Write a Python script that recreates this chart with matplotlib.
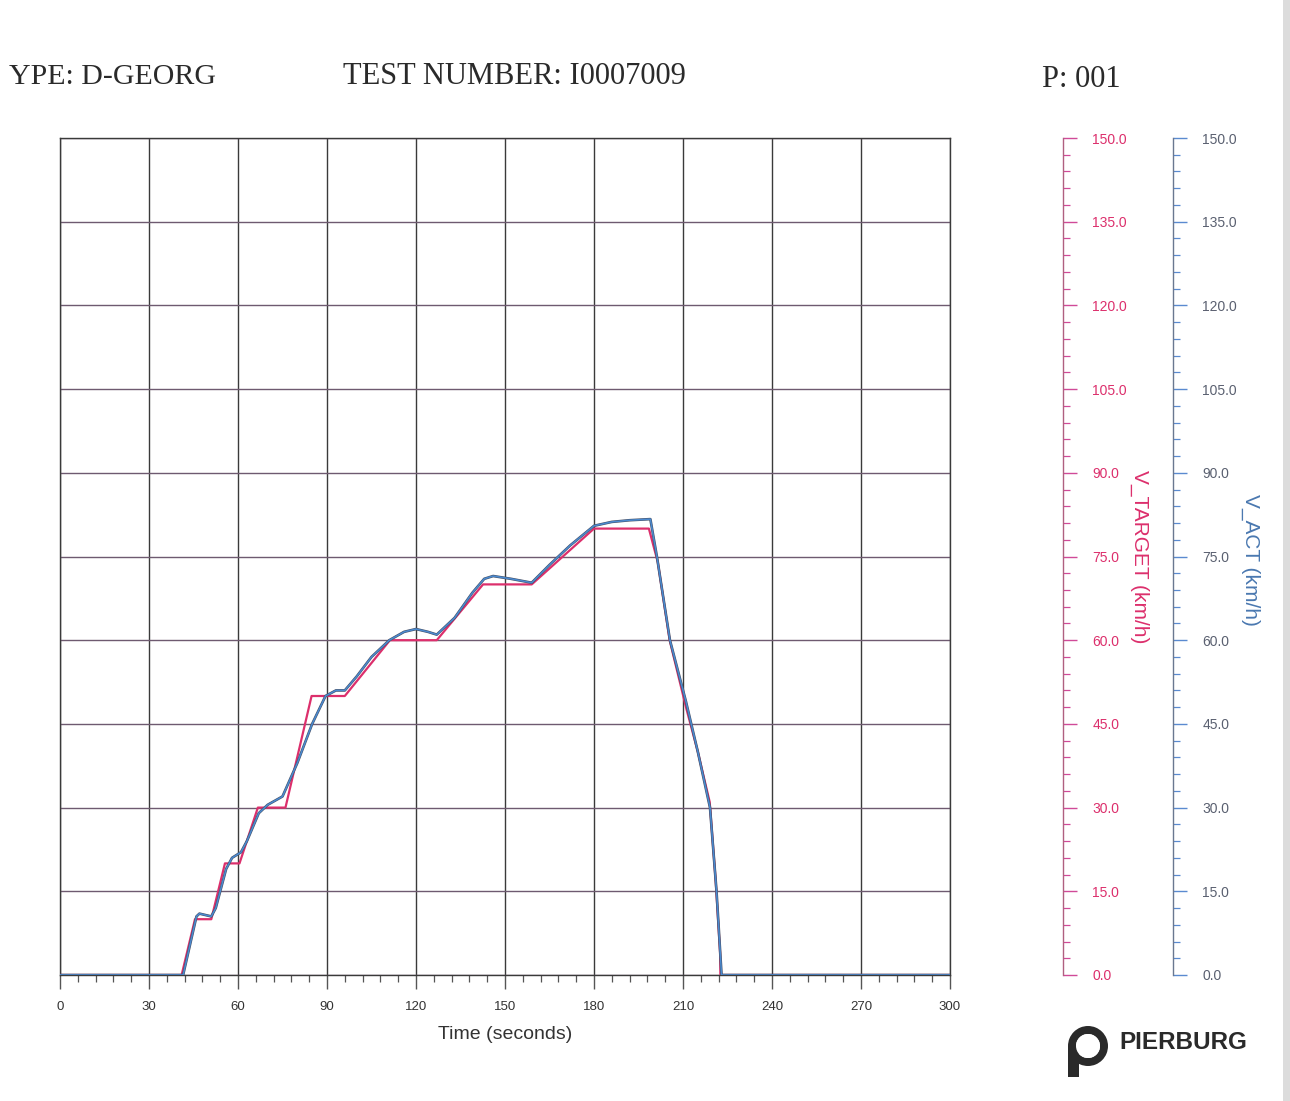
"""Recreate the scanned PIERBURG speed trace: target vs actual vehicle speed."""
from __future__ import annotations

import matplotlib

matplotlib.use("Agg")
import matplotlib.pyplot as plt
from matplotlib.patches import Circle, Rectangle, Wedge

W, H = 1290, 1101

# --- data --------------------------------------------------------------------
TARGET_T = [0, 41, 45.5, 51, 55.6, 60.5, 66.7, 76, 84.8, 96, 111.2, 127,
            142.6, 159, 180, 198.5, 201.5, 205.5, 211, 215, 219, 221, 222.5,
            222.6, 300]
TARGET_V = [0, 0, 10, 10, 20, 20, 30, 30, 50, 50, 60, 60,
            70, 70, 80, 80, 74, 60, 48, 40, 31, 17, 4,
            0, 0]

ACT_T = [0, 41.5, 46, 47, 51, 52.5, 56, 58, 61, 63, 67, 70, 75, 80, 85, 89.5,
         93, 96, 100, 105, 111, 116, 120, 124, 127, 133, 139, 143, 146, 152,
         159, 165, 172, 180, 186, 192, 199, 201.2, 205.6, 211, 215, 219.1,
         221.3, 223, 300]
ACT_V = [0, 0, 10.5, 11, 10.5, 12, 19, 21, 22, 24, 29, 30.5, 32, 38, 45, 50,
         51, 51, 53.5, 57, 60, 61.5, 62, 61.5, 61, 64, 68.5, 71, 71.5, 71,
         70.3, 73.5, 77, 80.5, 81.2, 81.5, 81.7, 75, 60, 49, 40, 30,
         15, 0, 0]

X_TICKS = list(range(0, 301, 30))
X_MINOR = list(range(0, 301, 6))
Y_TICKS = list(range(0, 151, 15))
Y_MINOR = list(range(0, 151, 3))
Y_LABELS = [f"{v:.1f}" for v in Y_TICKS]

PINK = "#dc2f6c"
BLUE = "#4a8ad0"


def px(x: float, y: float) -> tuple[float, float]:
    """Pixel position (top-left origin) to figure fraction."""
    return x / W, 1 - y / H


def add_side_axis(fig, x_px, top, bottom, spine_c, tick_c, label_c):
    left, b = px(x_px, bottom)
    _, t = px(x_px, top)
    ax = fig.add_axes([left, b, 1e-5, t - b])
    ax.set_ylim(0, 150)
    for side in ("left", "top", "bottom"):
        ax.spines[side].set_visible(False)
    ax.spines["right"].set_color(spine_c)
    ax.spines["right"].set_linewidth(1.0)
    ax.set_xticks([])
    ax.yaxis.tick_right()
    ax.set_yticks(Y_TICKS)
    ax.set_yticklabels(Y_LABELS)
    ax.set_yticks(Y_MINOR, minor=True)
    ax.tick_params(axis="y", which="major", direction="out", length=10,
                   width=1.0, color=tick_c, pad=11, labelsize=10,
                   labelcolor=label_c)
    ax.tick_params(axis="y", which="minor", direction="out", length=5,
                   width=0.9, color=tick_c)
    ax.patch.set_visible(False)
    return ax


def plot(out_path: str) -> None:
    plt.rcParams["font.family"] = ["Liberation Sans", "DejaVu Sans"]
    fig = plt.figure(figsize=(W / 100, H / 100), dpi=100)

    top, bottom = 138, 975
    l, b = px(60, bottom)
    r, t = px(950, top)
    ax = fig.add_axes([l, b, r - l, t - b])
    ax.set_xlim(0, 300)
    ax.set_ylim(0, 150)

    # grid
    for x in X_TICKS:
        ax.axvline(x, color="#3a3a3a", lw=1.0, zorder=1)
    for y in Y_TICKS:
        ax.axhline(y, color="#6e5a70", lw=1.0, zorder=1)

    ax.plot(TARGET_T, TARGET_V, color=PINK, lw=1.6, zorder=3)
    ax.plot(ACT_T, ACT_V, color="#465066", lw=1.9, zorder=4)
    ax.plot(ACT_T, ACT_V, color=BLUE, lw=1.1, zorder=5)

    for side in ax.spines.values():
        side.set_color("#3a3a3a")
        side.set_linewidth(1.0)
    ax.set_xticks(X_TICKS)
    ax.set_xticks(X_MINOR, minor=True)
    ax.tick_params(axis="x", which="major", direction="out", length=10,
                   width=1.0, color="#555555", labelsize=9.5,
                   labelcolor="#333333", pad=9)
    ax.tick_params(axis="x", which="minor", direction="out", length=5,
                   width=0.9, color="#555555")
    ax.set_yticks([])
    ax.set_xlabel("Time (seconds)", fontsize=14, color="#333333", labelpad=9)

    add_side_axis(fig, 1063, top, bottom, "#b06080", "#d04a98", PINK)
    add_side_axis(fig, 1173, top, bottom, "#6a7890", "#5a8ad0", "#5a6070")

    fig.text(*px(1140, 557), "V_TARGET (km/h)", rotation=270, ha="center",
             va="center", fontsize=15, color=PINK)
    fig.text(*px(1251, 560), "V_ACT (km/h)", rotation=270, ha="center",
             va="center", fontsize=15, color="#4a78b0")

    # header
    serif = ["Liberation Serif", "DejaVu Serif"]
    fig.text(*px(9, 84), "YPE: D-GEORG", ha="left", va="baseline",
             fontsize=21.5, family=serif, color="#2a2a2a")
    fig.text(*px(343, 84), "TEST NUMBER: I0007009", ha="left",
             va="baseline", fontsize=22, family=serif, color="#2a2a2a")
    fig.text(*px(1042, 87), "P: 001", ha="left", va="baseline",
             fontsize=22, family=serif, color="#2a2a2a")

    # decorative overlay: logo and scan edge
    deco = fig.add_axes([0, 0, 1, 1], zorder=-1)
    deco.set_xlim(0, W)
    deco.set_ylim(H, 0)
    deco.axis("off")
    deco.add_patch(Rectangle((1283, 0), 7, H, color="#dcdcdc", lw=0))
    deco.add_patch(Wedge((1088, 1046), 20, 0, 360, width=8,
                         color="#2a2a2a", lw=0))
    deco.add_patch(Rectangle((1068, 1046), 11, 31, color="#2a2a2a", lw=0))
    deco.add_patch(Circle((1088, 1046), 12, color="white", lw=0))
    fig.text(*px(1119, 1049), "PIERBURG", ha="left", va="baseline",
             fontsize=17.5, fontweight="bold", color="#2a2a2a")

    fig.savefig(out_path, dpi=100)
    plt.close(fig)


def main() -> None:
    plot("out.png")


if __name__ == "__main__":
    main()
